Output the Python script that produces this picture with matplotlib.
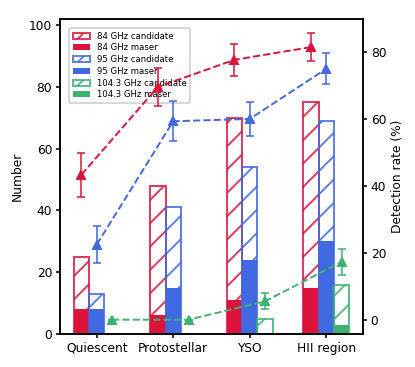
import matplotlib
matplotlib.use("Agg")
import matplotlib.pyplot as plt
import numpy as np

# source counts per evolutionary stage
categories = ["Quiescent", "Protostellar", "YSO", "HII region"]
cand_84 = [25, 48, 70, 75]
maser_84 = [8, 6, 11, 15]
cand_95 = [13, 41, 54, 69]
maser_95 = [8, 15, 24, 30]
cand_104 = [0, 0, 5, 16]
maser_104 = [0, 0, 0, 3]

# detection rates (%) and their errors
rate_84 = [43.4, 69.7, 77.8, 81.6]
err_84 = [6.6, 5.7, 4.7, 4.2]
rate_95 = [22.5, 59.4, 60.1, 75.1]
err_95 = [5.5, 6.0, 5.1, 4.6]
rate_104 = [0.0, 0.0, 5.5, 17.3]
err_104 = [0.0, 0.0, 2.4, 3.9]

red = "crimson"
blue = "royalblue"
green = "mediumseagreen"

plt.rcParams["font.size"] = 6.3
plt.rcParams["xtick.major.size"] = 2.2
plt.rcParams["ytick.major.size"] = 2.2
plt.rcParams["xtick.major.pad"] = 1.8
plt.rcParams["ytick.major.pad"] = 1.8
plt.rcParams["axes.labelpad"] = 2.5

dpi = 140
fig = plt.figure(figsize=(415 / dpi, 367 / dpi), dpi=dpi)
ax = fig.add_axes([0.1446, 0.0899, 0.73, 0.859])
ax2 = ax.twinx()

x = np.arange(len(categories))
w = 0.2

ax.bar(x - w, cand_84, w, facecolor="none", edgecolor=red, hatch="//", lw=1.0, alpha=0.85, label="84 GHz candidate")
ax.bar(x - w, maser_84, w, color=red, label="84 GHz maser")
ax.bar(x, cand_95, w, facecolor="none", edgecolor=blue, hatch="//", lw=1.0, alpha=0.85, label="95 GHz candidate")
ax.bar(x, maser_95, w, color=blue, label="95 GHz maser")
ax.bar(x + w, cand_104, w, facecolor="none", edgecolor=green, hatch="//", lw=1.0, alpha=0.85, label="104.3 GHz candidate")
ax.bar(x + w, maser_104, w, color=green, label="104.3 GHz maser")

ax.set_ylim(0, 102)
ax.set_ylabel("Number")
ax.set_xticks(x)
ax.set_xticklabels(categories)

for xs, rate, err, c in [(x - w, rate_84, err_84, red), (x, rate_95, err_95, blue), (x + w, rate_104, err_104, green)]:
    ax2.errorbar(xs, rate, yerr=err, color=c, ls="--", lw=1.0, marker="^", ms=4,
                 capsize=2, elinewidth=0.8, capthick=0.8)
ax2.set_ylabel("Detection rate (%)")

leg = ax.legend(loc="upper left", fontsize=4.4, labelspacing=0.32, borderaxespad=1.1)

fig.savefig("out.png", dpi=dpi)
